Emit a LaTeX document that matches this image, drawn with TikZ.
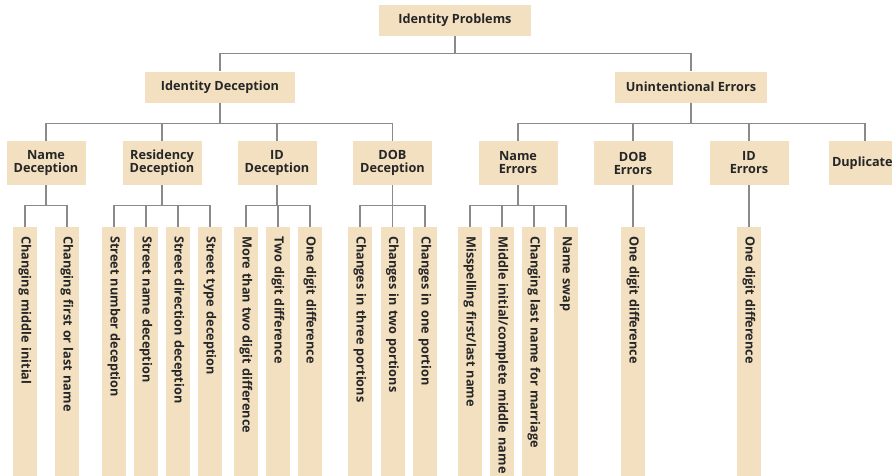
\documentclass[tikz,border=0pt]{standalone}
\usepackage{fontspec}
\setmainfont{Open Sans}
\definecolor{boxfill}{RGB}{242,224,193}
\definecolor{linegray}{RGB}{138,138,138}
\tikzset{
	box/.style={fill=boxfill, text=black!85, inner sep=0pt, align=center},
	topbox/.style={box, minimum width=152pt, minimum height=31pt},
	midbox/.style={box, minimum width=79pt, minimum height=44pt},
	leaf/.style={fill=boxfill, text=black!85, rotate=-90, anchor=west, minimum height=24pt, text width=246pt, inner xsep=9pt, inner ysep=0pt, align=left},
	link/.style={draw=linegray, line width=1.3pt}
}
\begin{document}
\begin{tikzpicture}[x=1pt, y=-1pt, font=\bfseries\fontsize{12.7}{13}\selectfont]
	\clip (0,0) rectangle (892,475);
	\fill[white] (0,0) rectangle (892,475);
	% top levels
	\node[topbox] (root) at (455,20.5) {Identity Problems};
	\node[topbox, minimum width=150pt] (idd) at (220,87) {Identity Deception};
	\node[topbox, minimum width=152pt] (ue) at (691,87) {Unintentional Errors};
	% second level
	\node[midbox] (nd) at (46,163) {Name\\Deception};
	\node[midbox] (rd) at (162,163) {Residency\\Deception};
	\node[midbox] (idc) at (277,163) {ID\\Deception};
	\node[midbox] (dd) at (392.5,163) {DOB\\Deception};
	\node[midbox] (ne) at (518,163) {Name\\Errors};
	\node[midbox] (de) at (633,163) {DOB\\Errors};
	\node[midbox] (ie) at (749,163) {ID\\Errors};
	\node[midbox, text width=72pt, align=left] (dup) at (868,163) {Duplicate};
	% leaves
	\node[leaf] (nd1) at (25,227) {Changing middle initial};
	\node[leaf] (nd2) at (67,227) {Changing first or last name};
	\node[leaf] (rd1) at (114,227) {Street number deception};
	\node[leaf] (rd2) at (146,227) {Street name deception};
	\node[leaf] (rd3) at (178,227) {Street direction deception};
	\node[leaf] (rd4) at (210,227) {Street type deception};
	\node[leaf] (idc1) at (246,227) {More than two digit difference};
	\node[leaf] (idc2) at (278,227) {Two digit difference};
	\node[leaf] (idc3) at (310,227) {One digit difference};
	\node[leaf] (dd1) at (360,227) {Changes in three portions};
	\node[leaf] (dd2) at (392.5,227) {Changes in two portions};
	\node[leaf] (dd3) at (425,227) {Changes in one portion};
	\node[leaf] (ne1) at (470,227) {Misspelling first/last name};
	\node[leaf] (ne2) at (502,227) {Middle initial/complete middle name};
	\node[leaf] (ne3) at (534,227) {Changing last name for marriage};
	\node[leaf] (ne4) at (566,227) {Name swap};
	\node[leaf] (de1) at (633,227) {One digit difference};
	\node[leaf] (ie1) at (749,227) {One digit difference};
	% connectors
	\foreach \c in {idd, ue}
		\draw[link] (root.south) -- ++(0,17) -| (\c.north);
	\foreach \c in {nd, rd, idc, dd}
		\draw[link] (idd.south) -- ++(0,21) -| (\c.north);
	\foreach \c in {ne, de, ie}
		\draw[link] (ue.south) -- ++(0,21) -| (\c.north);
	\draw[link] (ue.south) -- ++(0,21) -| (865,141);
	\foreach \c in {nd1, nd2}
		\draw[link] (nd.south) -- ++(0,20) -| (\c.west);
	\foreach \c in {rd1, rd2, rd3, rd4}
		\draw[link] (rd.south) -- ++(0,20) -| (\c.west);
	\foreach \c in {idc1, idc2, idc3}
		\draw[link] (idc.south) -- ++(0,20) -| (\c.west);
	\foreach \c in {dd1, dd2, dd3}
		\draw[link] (dd.south) -- ++(0,20) -| (\c.west);
	\foreach \c in {ne1, ne2, ne3, ne4}
		\draw[link] (ne.south) -- ++(0,20) -| (\c.west);
	\draw[link] (de.south) -- (de1.west);
	\draw[link] (ie.south) -- (ie1.west);
\end{tikzpicture}
\end{document}
